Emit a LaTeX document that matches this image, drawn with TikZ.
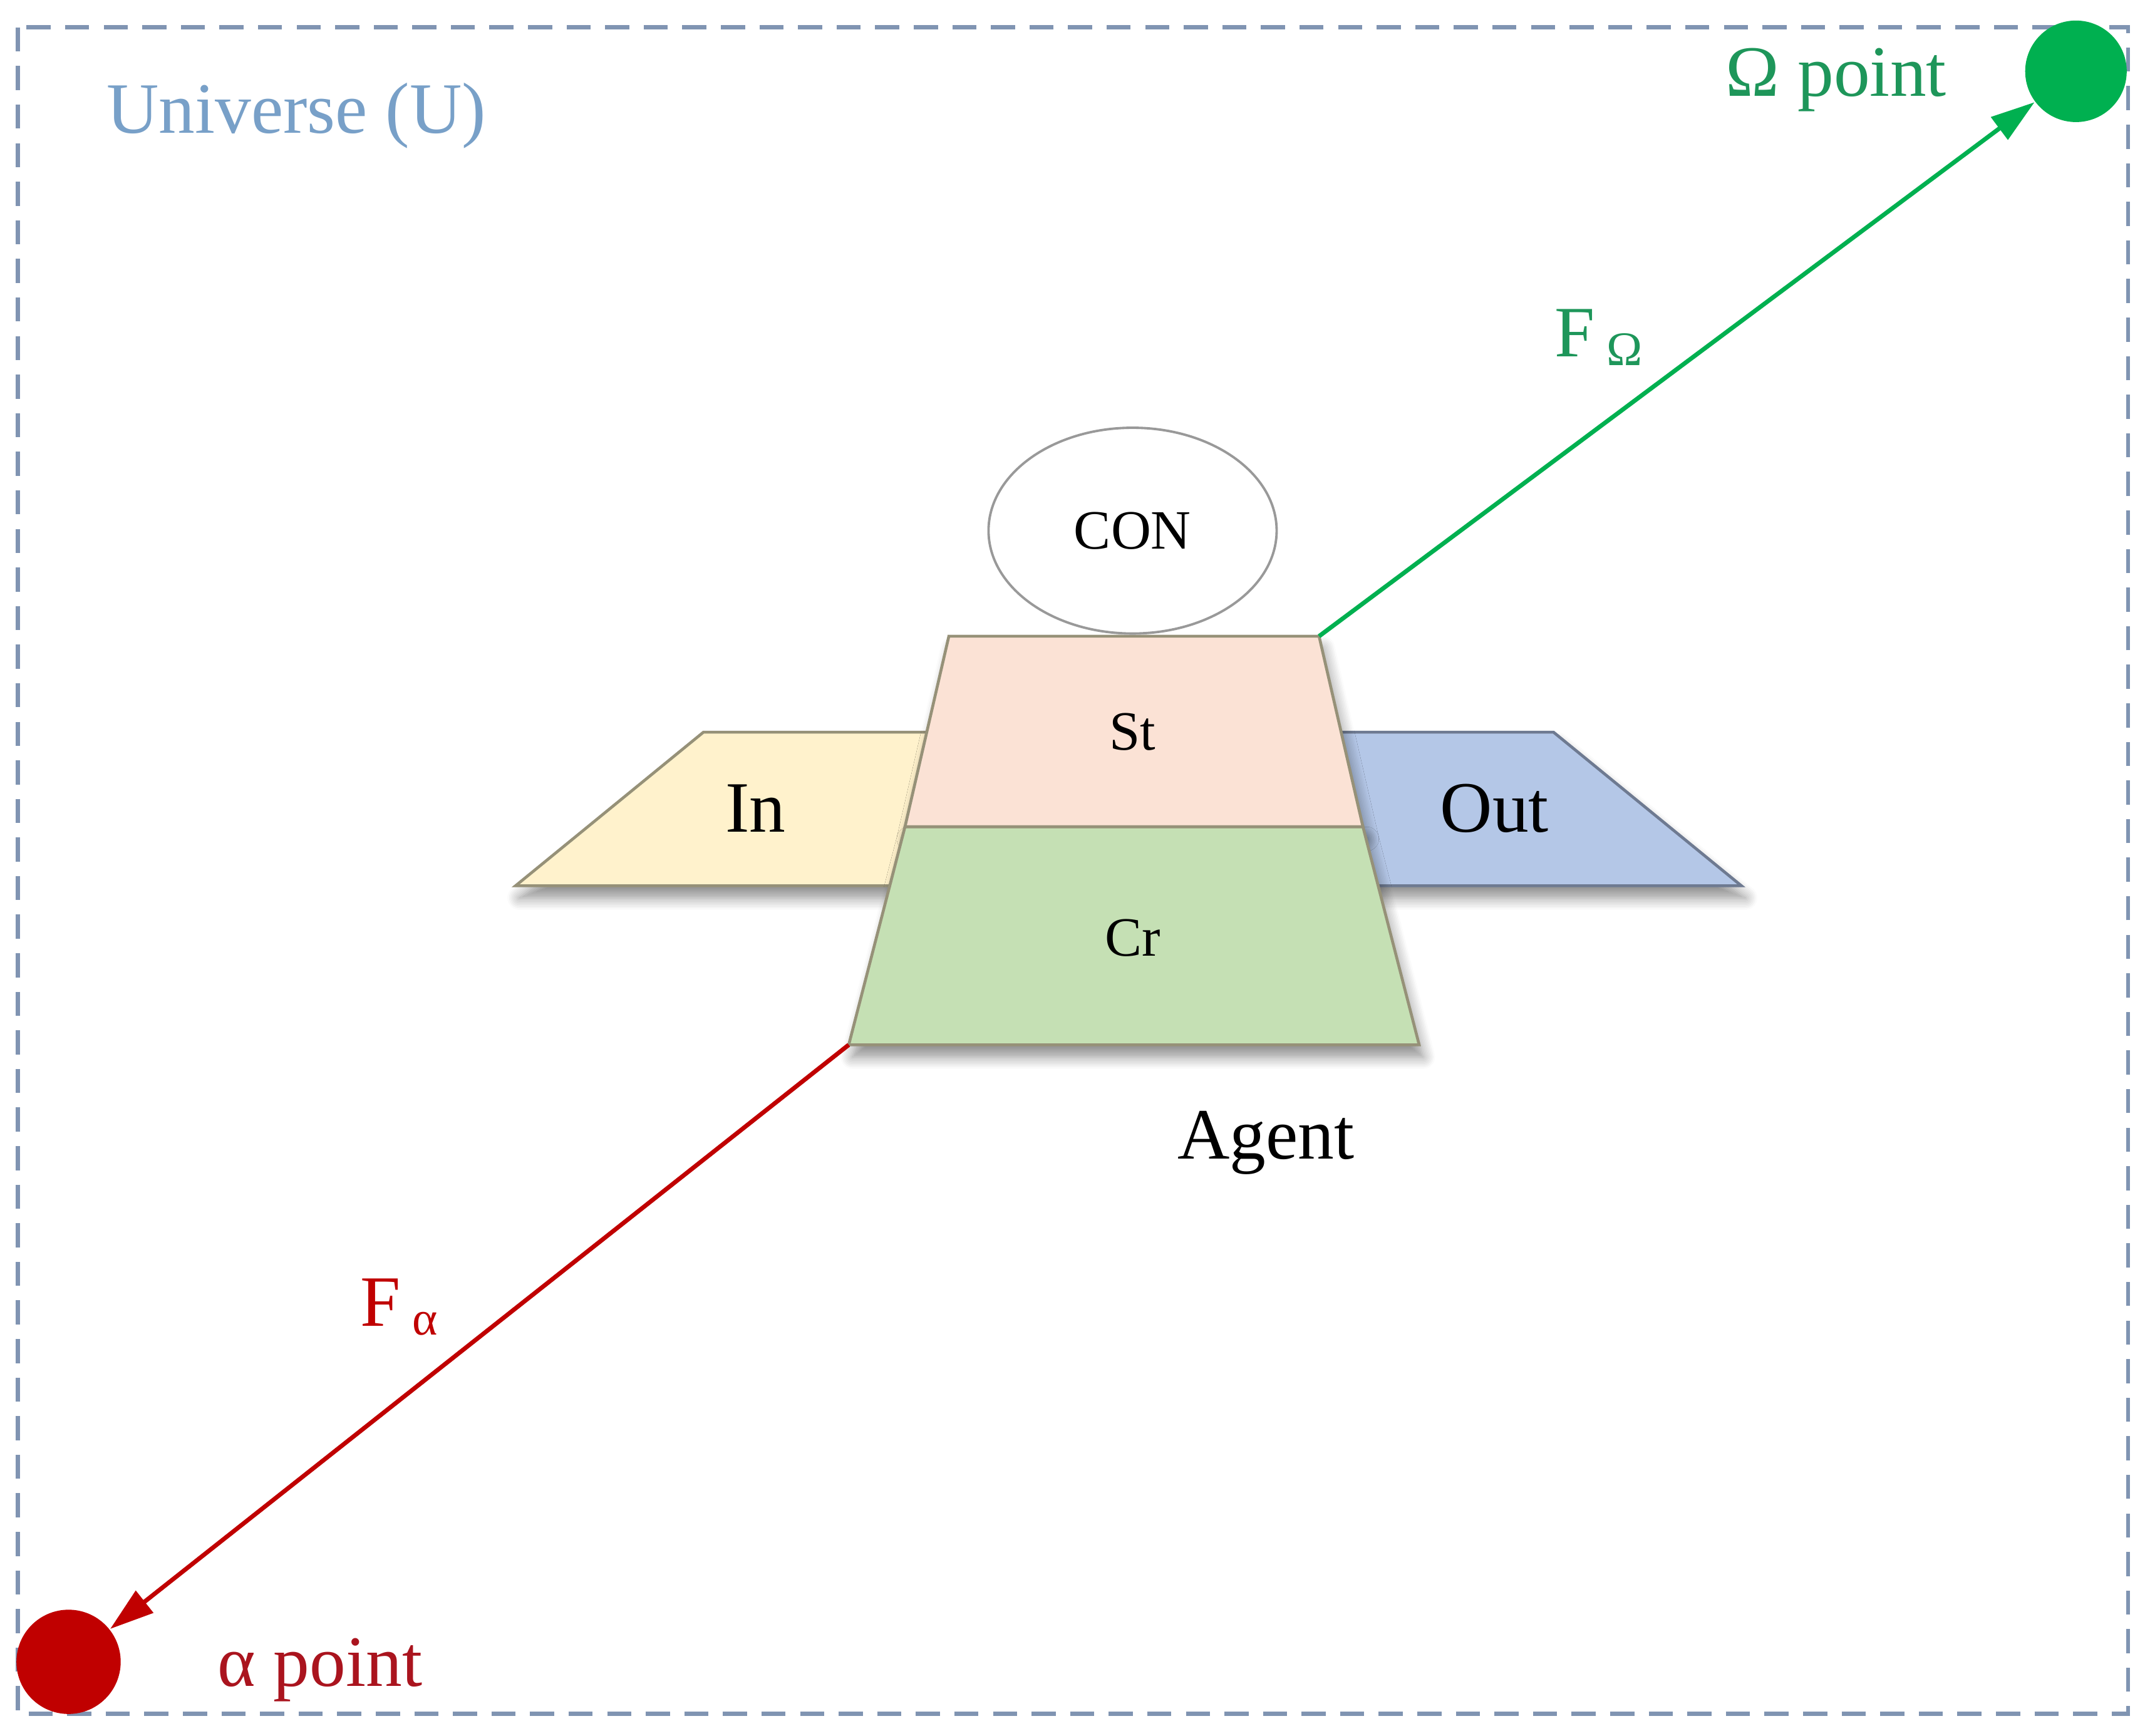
\documentclass[tikz,border=0pt]{standalone}
\usepackage{fontspec}
\setmainfont{Liberation Serif}
\usetikzlibrary{arrows.meta,shadows.blur,shapes.geometric}
\definecolor{bordercol}{RGB}{128,148,178}
\definecolor{univcol}{RGB}{120,160,200}
\definecolor{gcol}{RGB}{0,176,80}
\definecolor{gtext}{RGB}{30,150,90}
\definecolor{rcol}{RGB}{192,0,0}
\definecolor{rtext}{RGB}{170,20,30}
\definecolor{stfill}{RGB}{251,226,213}
\definecolor{crfill}{RGB}{197,224,180}
\definecolor{infill}{RGB}{255,242,204}
\definecolor{outfill}{RGB}{180,199,231}
\definecolor{edgecol}{RGB}{150,145,120}
\definecolor{outedge}{RGB}{110,122,145}
\begin{document}
\begin{tikzpicture}[x=0.01cm,y=-0.01cm,
  big/.style={font=\fontsize{15}{18}\selectfont},
  small/.style={font=\fontsize{11.5}{14}\selectfont},
  block/.style={line width=0.6pt, blur shadow={shadow xshift=0.8pt, shadow yshift=-2.5pt, shadow blur radius=2.5pt, shadow blur steps=8, shadow opacity=45}},
  dot/.style={circle, inner sep=0pt},
  force/.style={line width=0.9pt, -{Triangle[length=0.32cm,width=0.2cm]}}]
\useasboundingbox (0,0) rectangle (1568,1266);
% universe frame
\draw[bordercol, line width=0.9pt, dash pattern=on 5pt off 3pt] (13,20) rectangle (1552,1250);
\node[big, text=univcol, anchor=base west, inner sep=0pt] (univ) at (77,97) {Universe (U)};
% corner coordinates
\coordinate (sttl) at (692,464);
\coordinate (sttr) at (962,464);
\coordinate (stbr) at (994,603);
\coordinate (stbl) at (660,603);
\coordinate (crbr) at (1035,762);
\coordinate (crbl) at (619,762);
% In and Out blocks
\filldraw[block, fill=infill, draw=edgecol] (513,534) -- (690,534) -- (665,646) -- (376,646) -- cycle;
\filldraw[block, fill=outfill, draw=outedge] (965,534) -- (1133,534) -- (1270,646) -- (995,646) -- cycle;
% St and Cr blocks
\filldraw[block, fill=stfill, draw=edgecol] (sttl) -- (sttr) -- (stbr) -- (stbl) -- cycle;
\filldraw[block, fill=crfill, draw=edgecol] (stbl) -- (stbr) -- (crbr) -- (crbl) -- cycle;
\node[big, anchor=base, inner sep=0pt] (in) at (551,607) {In};
\node[big, anchor=base, inner sep=0pt] (out) at (1090,607) {Out};
\node[small, anchor=base, inner sep=0pt] (st) at (826,547) {St};
\node[small, anchor=base, inner sep=0pt] (cr) at (826,697) {Cr};
% CON
\node[ellipse, draw=black!40, line width=0.5pt, minimum width=2.1cm, minimum height=1.5cm, small] (con) at (826,387) {CON};
\node[big, anchor=base west, inner sep=0pt] (agent) at (858,845) {Agent};
% end points
\node[dot, fill=gcol, minimum size=0.74cm] (omega) at (1514,52) {};
\node[dot, fill=rcol, minimum size=0.76cm] (alpha) at (50,1212) {};
\node[big, text=gtext, anchor=base west, inner sep=0pt] (omegalbl) at (1258,70) {Ω point};
\node[big, text=rtext, anchor=base west, inner sep=0pt] (alphalbl) at (158,1230) {α point};
% forces
\draw[gcol, force] (sttr) -- (omega);
\draw[rcol, force] (crbl) -- (alpha);
\node[big, text=gtext, anchor=base west, inner sep=0pt] (fomega) at (1133,260) {F\,\raisebox{-0.12em}{\fontsize{10}{12}\selectfont Ω}};
\node[big, text=rcol, anchor=base west, inner sep=0pt] (falpha) at (262,967) {F\,\raisebox{-0.12em}{\fontsize{10}{12}\selectfont α}};
\end{tikzpicture}
\end{document}
